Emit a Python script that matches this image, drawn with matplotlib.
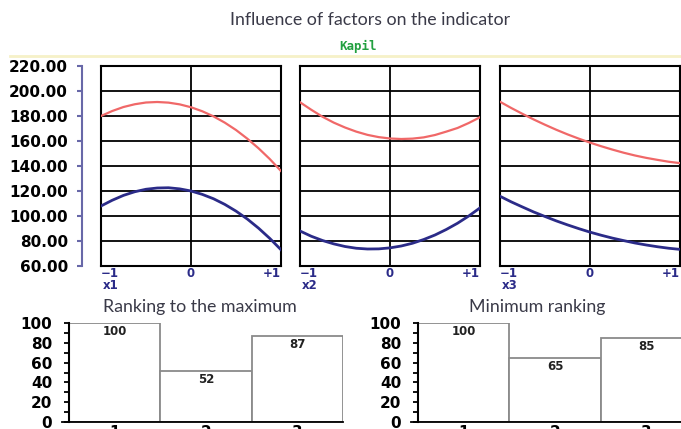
import numpy as np
import matplotlib
matplotlib.use("Agg")
import matplotlib.pyplot as plt

# ---- data ----
xs = [-1, -0.875, -0.75, -0.625, -0.5, -0.375, -0.25, -0.125, 0,
      0.125, 0.25, 0.375, 0.5, 0.625, 0.75, 0.875, 1]
factors = ["x1", "x2", "x3"]
red_curves = [
    [180, 184.0, 187.2, 189.4, 190.8, 191.2, 190.7, 189.3, 187,
     183.8, 179.7, 174.7, 168.8, 161.9, 154.2, 145.6, 136],
    [191, 185.0, 179.4, 174.7, 170.8, 167.5, 164.9, 163.1, 162,
     161.6, 161.9, 162.9, 164.8, 167.5, 170.4, 174.4, 179],
    [191.4, 186.4, 181.7, 177.2, 173.0, 169.0, 165.3, 161.9, 158.7,
     155.8, 153.1, 150.6, 148.4, 146.5, 144.9, 143.4, 142.3],
]
blue_curves = [
    [108, 112.6, 116.5, 119.4, 121.4, 122.4, 122.6, 121.7, 120,
     117.3, 113.8, 109.3, 103.9, 97.6, 90.3, 82.1, 73],
    [88, 83.8, 80.4, 77.7, 75.6, 74.2, 73.6, 73.7, 74.5,
     76.0, 78.2, 81.2, 84.8, 89.2, 94.2, 100.0, 106.5],
    [115.8, 111.3, 107.2, 103.2, 99.6, 96.1, 92.9, 89.9, 87.1,
     84.6, 82.3, 80.3, 78.4, 76.8, 75.4, 74.2, 73.3],
]
y_ticks = [60, 80, 100, 120, 140, 160, 180, 200, 220]

bar_cats = [1, 2, 3]
rank_max = [100, 52, 87]
rank_min = [100, 65, 85]

W, H = 681, 429
RED, NAVY, AXBLUE = "#f06868", "#2b2b88", "#6868a8"
BOLD = dict(family="DejaVu Sans", weight="bold")


def box(x0, y0, x1, y1):
    # pixel box (top-left origin) -> figure fraction rect
    return [x0 / W, 1 - y1 / H, (x1 - x0) / W, (y1 - y0) / H]


fig = plt.figure(figsize=(W / 100, H / 100), dpi=100)
fig.patch.set_facecolor("white")

fig.text(370 / W, 1 - 20 / H, "Influence of factors on the indicator",
         ha="center", va="center", fontsize=12.8, family="Lato", color="#3a3a48")
fig.text(358 / W, 1 - 46 / H, "Kapil", ha="center", va="center",
         fontsize=9, family="DejaVu Sans Mono", weight="bold", color="#22a040")
fig.add_artist(plt.Line2D([10 / W, 1], [1 - 56 / H] * 2, color="#f6f1c8", lw=2))

# shared y axis of the top panels
yax = fig.add_axes(box(82, 66, 83, 266))
yax.set_ylim(60, 220)
yax.set_xticks([])
for s in ["top", "right", "bottom"]:
    yax.spines[s].set_visible(False)
yax.spines["left"].set_color(AXBLUE)
yax.spines["left"].set_linewidth(1.5)
yax.set_yticks(y_ticks)
yax.set_yticklabels([f"{v:.2f}" for v in y_ticks], fontsize=11, **BOLD)
yax.tick_params(axis="y", length=3.6, width=1.5, color=AXBLUE, pad=6.5)
yax.patch.set_visible(False)

lefts = [101, 300, 500]
for i, x0 in enumerate(lefts):
    ax = fig.add_axes(box(x0, 66, x0 + 180, 266))
    ax.set_xlim(-1, 1)
    ax.set_ylim(60, 220)
    for v in y_ticks[1:-1]:
        ax.axhline(v, color="black", lw=1.3, zorder=1)
    ax.axvline(0, color="black", lw=1.3, zorder=1)
    ax.plot(xs, red_curves[i], color=RED, lw=1.6, zorder=3)
    ax.plot(xs, blue_curves[i], color=NAVY, lw=2, zorder=3)
    ax.set_yticks([])
    ax.set_xticks([-1, 0, 1])
    ax.set_xticklabels(["\u22121", "0", "+1"], fontsize=8.5, color=NAVY, **BOLD)
    ax.tick_params(axis="x", length=0, pad=1)
    tl = ax.get_xticklabels()
    tl[0].set_ha("left")
    tl[2].set_ha("right")
    for s in ax.spines.values():
        s.set_linewidth(1.5)
    ax.annotate(factors[i], xy=(0, 0), xycoords="axes fraction",
                xytext=(1, -9.5), textcoords="offset points", ha="left", va="top",
                fontsize=8.5, color=NAVY, **BOLD)


def ranking(rect, vals, title, title_x):
    ax = fig.add_axes(box(*rect))
    ax.bar(bar_cats, vals, width=1.0, color="white", edgecolor="#8a8a8a", lw=1.3)
    ax.set_xlim(0.5, 3.5)
    ax.set_ylim(0, 100)
    ax.set_yticks(range(0, 101, 20))
    ax.set_yticks(range(0, 101, 10), minor=True)
    ax.set_yticklabels([str(v) for v in range(0, 101, 20)], fontsize=11, **BOLD)
    ax.tick_params(axis="y", which="both", length=3.6, width=1.3, pad=8.5)
    ax.set_xticks(bar_cats)
    ax.set_xticklabels([str(c) for c in bar_cats], fontsize=11, **BOLD)
    ax.tick_params(axis="x", length=0, pad=2)
    for s in ["top", "right"]:
        ax.spines[s].set_visible(False)
    ax.spines["left"].set_linewidth(1.5)
    ax.spines["bottom"].set_linewidth(1.3)
    ax.spines["bottom"].set_bounds(0.42, 3.5)
    for c, v in zip(bar_cats, vals):
        ax.annotate(str(v), xy=(c, v), xytext=(0, -1.5), textcoords="offset points",
                    ha="center", va="top", fontsize=8.5, color="#222222", **BOLD)
    ax.patch.set_visible(False)
    fig.text(title_x / W, 1 - 307 / H, title, ha="center", va="center",
             fontsize=12.8, family="Lato", color="#3a3a48")
    return ax


ranking((69, 323, 343, 422), rank_max, "Ranking to the maximum", 200)
ranking((418, 323, 692, 422), rank_min, "Minimum ranking", 537)

fig.savefig("out.png", dpi=100)
